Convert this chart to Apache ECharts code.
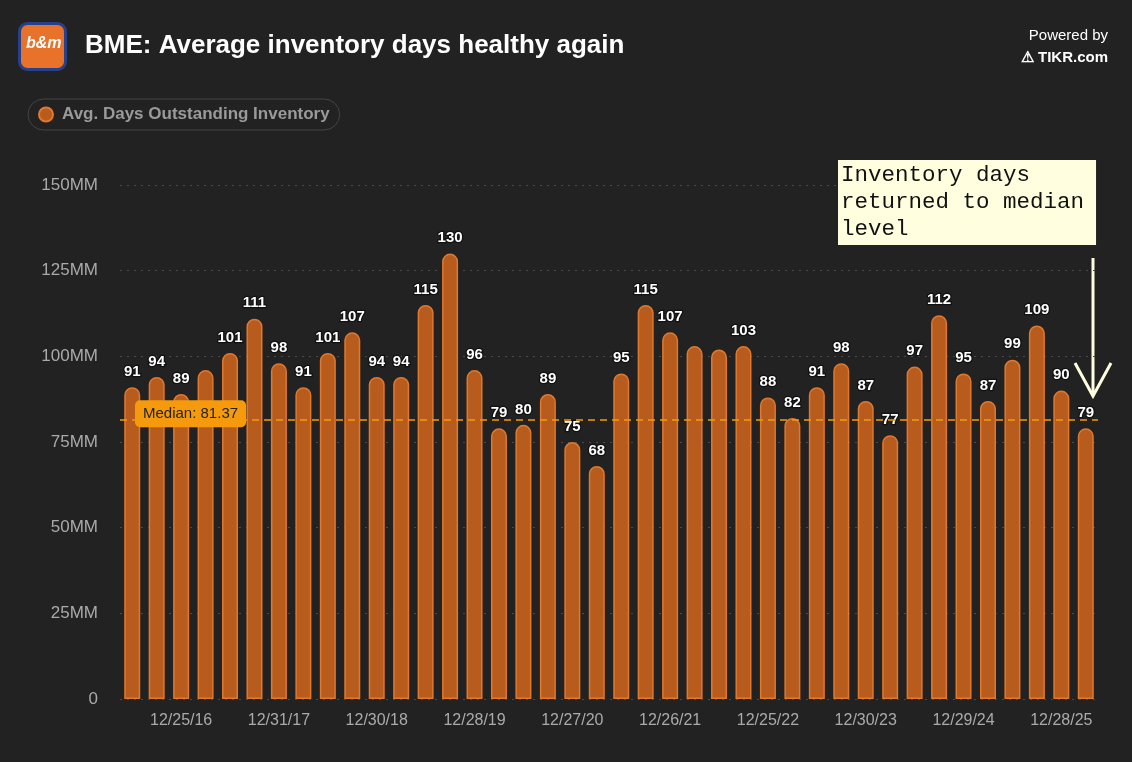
<!DOCTYPE html>
<html>
<head>
<meta charset="utf-8">
<title>BME</title>
<script src="https://cdn.jsdelivr.net/npm/echarts@6/dist/echarts.min.js"></script>
<style>
html,body{margin:0;padding:0;background:#1a1a1a;}
#main{width:1132px;height:762px;}
</style>
</head>
<body>
<div id="main"></div>
<script>
var dates = ['6/26/16','9/25/16','12/25/16','3/26/17','6/25/17','9/24/17','12/31/17','4/1/18',
  '7/1/18','9/30/18','12/30/18','3/31/19','6/30/19','9/29/19','12/28/19','3/28/20',
  '6/27/20','9/26/20','12/27/20','3/27/21','6/26/21','9/25/21','12/26/21','3/27/22',
  '6/26/22','9/25/22','12/25/22','3/26/23','6/25/23','9/24/23','12/30/23','3/30/24',
  '6/29/24','9/28/24','12/29/24','3/29/25','6/28/25','9/27/25','12/28/25','3/29/26'];
var days = [91,94,89,96,101,111,98,91,101,107,94,94,115,130,96,79,80,89,75,68,
  95,115,107,103,102,103,88,82,91,98,87,77,97,112,95,87,99,109,90,79];
var hiddenLabels = [3,23,24];
var median = 81.37;

var chart = echarts.init(document.getElementById('main'));
var seriesData = days.map(function(v,i){
  return hiddenLabels.indexOf(i) >= 0 ? {value:v, label:{show:false}} : v;
});
chart.setOption({
  backgroundColor:'#222222',
  textStyle:{fontFamily:'Liberation Sans, Arial, sans-serif'},
  title:{text:'BME: Average inventory days healthy again', left:80, top:28,
    textStyle:{color:'#fff', fontSize:26, fontWeight:'bold'}},
  legend:{left:28, top:99, itemWidth:14, itemHeight:14, icon:'circle', itemGap:8,
    padding:[7,10,7,10], borderColor:'#444', borderWidth:1, borderRadius:16,
    textStyle:{color:'#9a9a9a', fontSize:17, fontWeight:'bold', padding:[0,0,0,4]}},
  grid:{left:120, right:34, top:185, bottom:63},
  xAxis:{type:'category', data:dates,
    axisLine:{show:false}, axisTick:{show:false},
    axisLabel:{color:'#aaa', fontSize:16, margin:14,
      interval:function(i){return i % 4 === 2;}}},
  yAxis:{type:'value', min:0, max:150, interval:25,
    splitLine:{lineStyle:{color:'#4a4a4a', type:[2,5]}},
    axisLabel:{color:'#aaa', fontSize:17, margin:22,
      formatter:function(v){return v === 0 ? '0' : v + 'MM';}}},
  series:[{
    name:'Avg. Days Outstanding Inventory', type:'bar', data:seriesData,
    barWidth:16,
    itemStyle:{color:'#b85c1e', borderColor:'#e0782e', borderWidth:1.5, borderRadius:[8,8,0,0]},
    label:{show:true, position:'top', distance:8, color:'#fff', fontWeight:'bold', fontSize:15,
      textBorderColor:'#111', textBorderWidth:2.5},
    markLine:{silent:true, symbol:'none',
      data:[{yAxis:median}],
      lineStyle:{color:'#f59a0c', type:[7,5], width:1.5},
      label:{position:'insideStartTop', formatter:'Median: 81.37',
        backgroundColor:'#f59a0c', color:'#222', fontSize:15, padding:[6,8],
        borderRadius:5, offset:[10,12]}}
  }],
  graphic:[
    {type:'rect', left:18, top:22, shape:{width:46, height:46, r:8},
      style:{fill:'#e8722a', stroke:'#27408b', lineWidth:3}},
    {type:'text', left:26, top:36, style:{text:'b&m', fill:'#fff', font:'bold italic 16px Liberation Sans'}},
    {type:'text', right:24, top:28, style:{text:'Powered by', fill:'#fff', font:'15px Liberation Sans', textAlign:'right'}},
    {type:'text', right:24, top:50, style:{text:'⚠ TIKR.com', fill:'#fff', font:'bold 15px Liberation Sans', textAlign:'right'}},
    {type:'text', left:838, top:160, z:100, style:{
      text:'Inventory days\nreturned to median\nlevel', fill:'#111', backgroundColor:'#ffffe0',
      font:'22.5px Liberation Mono, DejaVu Sans Mono, monospace', lineHeight:27,
      padding:[2,12,2,3]}},
    {type:'line', shape:{x1:1093, y1:258, x2:1093, y2:394}, style:{stroke:'#ffffe0', lineWidth:3}},
    {type:'polyline', shape:{points:[[1075,363],[1093,396],[1111,363]]}, style:{stroke:'#ffffe0', lineWidth:3, fill:null}}
  ]
});
</script>
</body>
</html>
